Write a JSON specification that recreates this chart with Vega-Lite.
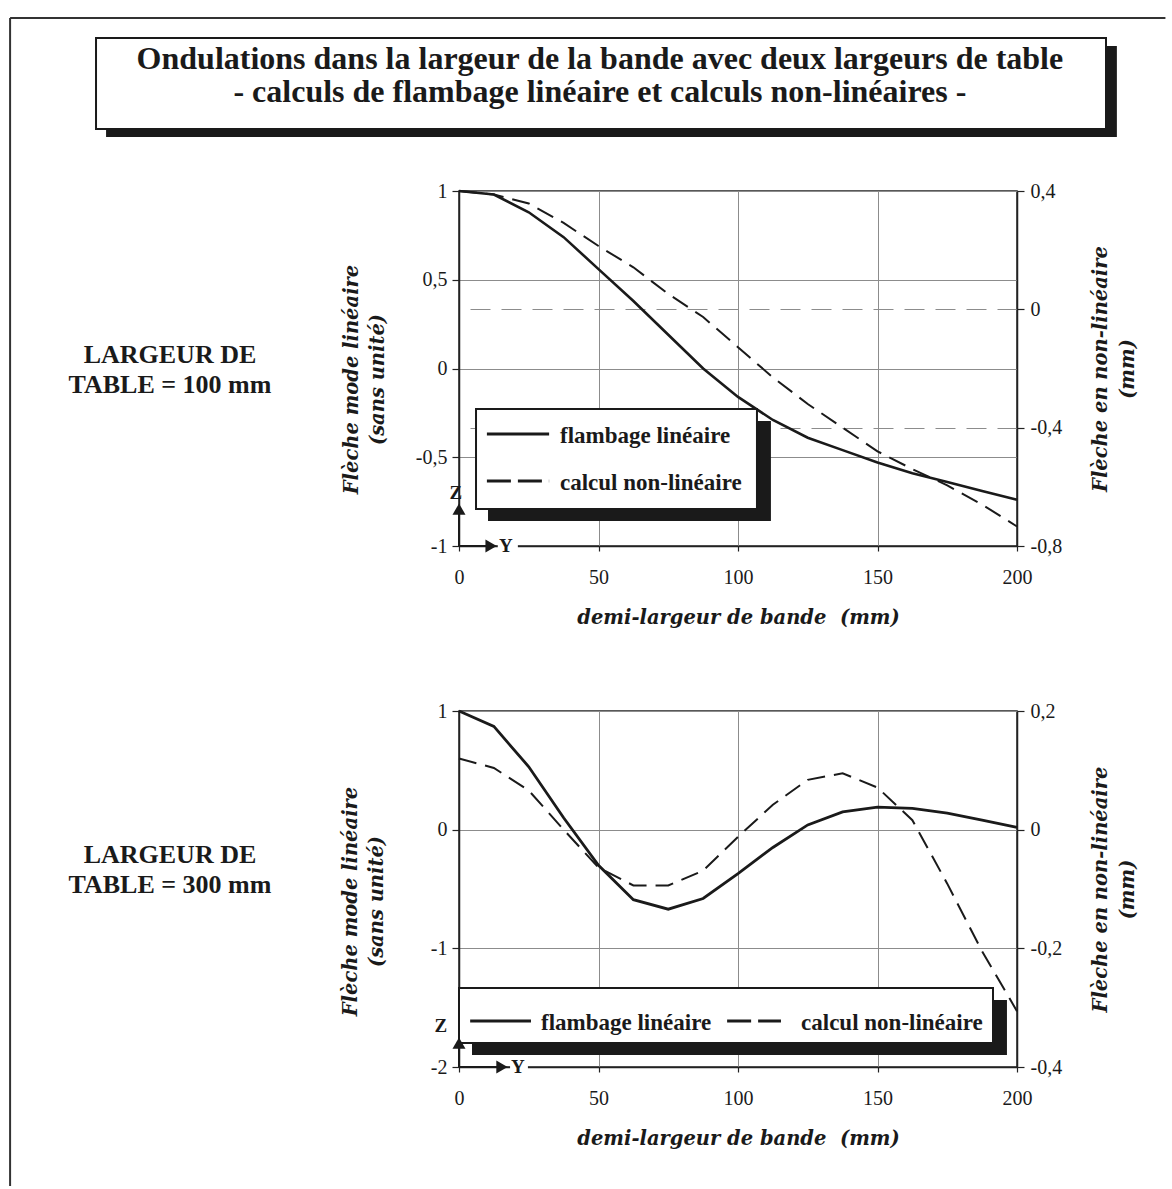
{
  "$schema": "https://vega.github.io/schema/vega-lite/v6.json",
  "background": "white",
  "padding": {"left": 8, "top": 16, "right": 0, "bottom": 0},
  "bounds": "flush",
  "spacing": 165,
  "config": {
    "view": {"stroke": "#222222", "strokeWidth": 1.5},
    "axis": {
      "labelFlush": false, "labelOverlap": false, "labelBound": false,
      "labelFont": "Liberation Serif", "labelFontSize": 20, "labelColor": "#1a1a1a",
      "titleFont": "DejaVu Serif", "titleFontStyle": "italic", "titleFontWeight": "bold",
      "titleFontSize": 19.5, "titleColor": "#1a1a1a",
      "domainColor": "#222222", "domainWidth": 1.5,
      "tickColor": "#222222", "tickWidth": 1.2,
      "gridColor": "#8c8c8c", "gridWidth": 1
    }
  },
  "datasets": {
    "p1": [
      {"demi_largeur": 0, "fleche": 1.0, "serie": "flambage linéaire"},
      {"demi_largeur": 12.5, "fleche": 0.98, "serie": "flambage linéaire"},
      {"demi_largeur": 25, "fleche": 0.88, "serie": "flambage linéaire"},
      {"demi_largeur": 37.5, "fleche": 0.74, "serie": "flambage linéaire"},
      {"demi_largeur": 50, "fleche": 0.56, "serie": "flambage linéaire"},
      {"demi_largeur": 62.5, "fleche": 0.38, "serie": "flambage linéaire"},
      {"demi_largeur": 75, "fleche": 0.19, "serie": "flambage linéaire"},
      {"demi_largeur": 87.5, "fleche": 0.0, "serie": "flambage linéaire"},
      {"demi_largeur": 100, "fleche": -0.16, "serie": "flambage linéaire"},
      {"demi_largeur": 112.5, "fleche": -0.29, "serie": "flambage linéaire"},
      {"demi_largeur": 125, "fleche": -0.39, "serie": "flambage linéaire"},
      {"demi_largeur": 137.5, "fleche": -0.46, "serie": "flambage linéaire"},
      {"demi_largeur": 150, "fleche": -0.53, "serie": "flambage linéaire"},
      {"demi_largeur": 162.5, "fleche": -0.59, "serie": "flambage linéaire"},
      {"demi_largeur": 175, "fleche": -0.64, "serie": "flambage linéaire"},
      {"demi_largeur": 187.5, "fleche": -0.69, "serie": "flambage linéaire"},
      {"demi_largeur": 200, "fleche": -0.74, "serie": "flambage linéaire"},
      {"demi_largeur": 0, "fleche": 0.4, "serie": "calcul non-linéaire"},
      {"demi_largeur": 12.5, "fleche": 0.388, "serie": "calcul non-linéaire"},
      {"demi_largeur": 25, "fleche": 0.358, "serie": "calcul non-linéaire"},
      {"demi_largeur": 37.5, "fleche": 0.292, "serie": "calcul non-linéaire"},
      {"demi_largeur": 50, "fleche": 0.214, "serie": "calcul non-linéaire"},
      {"demi_largeur": 62.5, "fleche": 0.142, "serie": "calcul non-linéaire"},
      {"demi_largeur": 75, "fleche": 0.052, "serie": "calcul non-linéaire"},
      {"demi_largeur": 87.5, "fleche": -0.026, "serie": "calcul non-linéaire"},
      {"demi_largeur": 100, "fleche": -0.128, "serie": "calcul non-linéaire"},
      {"demi_largeur": 112.5, "fleche": -0.23, "serie": "calcul non-linéaire"},
      {"demi_largeur": 125, "fleche": -0.32, "serie": "calcul non-linéaire"},
      {"demi_largeur": 137.5, "fleche": -0.4, "serie": "calcul non-linéaire"},
      {"demi_largeur": 150, "fleche": -0.48, "serie": "calcul non-linéaire"},
      {"demi_largeur": 162.5, "fleche": -0.54, "serie": "calcul non-linéaire"},
      {"demi_largeur": 175, "fleche": -0.595, "serie": "calcul non-linéaire"},
      {"demi_largeur": 187.5, "fleche": -0.66, "serie": "calcul non-linéaire"},
      {"demi_largeur": 200, "fleche": -0.734, "serie": "calcul non-linéaire"}
    ],
    "p2": [
      {"demi_largeur": 0, "fleche": 1.0, "serie": "flambage linéaire"},
      {"demi_largeur": 12.5, "fleche": 0.87, "serie": "flambage linéaire"},
      {"demi_largeur": 25, "fleche": 0.53, "serie": "flambage linéaire"},
      {"demi_largeur": 37.5, "fleche": 0.1, "serie": "flambage linéaire"},
      {"demi_largeur": 50, "fleche": -0.3, "serie": "flambage linéaire"},
      {"demi_largeur": 62.5, "fleche": -0.59, "serie": "flambage linéaire"},
      {"demi_largeur": 75, "fleche": -0.67, "serie": "flambage linéaire"},
      {"demi_largeur": 87.5, "fleche": -0.58, "serie": "flambage linéaire"},
      {"demi_largeur": 100, "fleche": -0.37, "serie": "flambage linéaire"},
      {"demi_largeur": 112.5, "fleche": -0.15, "serie": "flambage linéaire"},
      {"demi_largeur": 125, "fleche": 0.04, "serie": "flambage linéaire"},
      {"demi_largeur": 137.5, "fleche": 0.15, "serie": "flambage linéaire"},
      {"demi_largeur": 150, "fleche": 0.19, "serie": "flambage linéaire"},
      {"demi_largeur": 162.5, "fleche": 0.18, "serie": "flambage linéaire"},
      {"demi_largeur": 175, "fleche": 0.14, "serie": "flambage linéaire"},
      {"demi_largeur": 187.5, "fleche": 0.08, "serie": "flambage linéaire"},
      {"demi_largeur": 200, "fleche": 0.02, "serie": "flambage linéaire"},
      {"demi_largeur": 0, "fleche": 0.12, "serie": "calcul non-linéaire"},
      {"demi_largeur": 12.5, "fleche": 0.104, "serie": "calcul non-linéaire"},
      {"demi_largeur": 25, "fleche": 0.066, "serie": "calcul non-linéaire"},
      {"demi_largeur": 37.5, "fleche": 0.0, "serie": "calcul non-linéaire"},
      {"demi_largeur": 50, "fleche": -0.064, "serie": "calcul non-linéaire"},
      {"demi_largeur": 62.5, "fleche": -0.094, "serie": "calcul non-linéaire"},
      {"demi_largeur": 75, "fleche": -0.094, "serie": "calcul non-linéaire"},
      {"demi_largeur": 87.5, "fleche": -0.069, "serie": "calcul non-linéaire"},
      {"demi_largeur": 100, "fleche": -0.012, "serie": "calcul non-linéaire"},
      {"demi_largeur": 112.5, "fleche": 0.042, "serie": "calcul non-linéaire"},
      {"demi_largeur": 125, "fleche": 0.084, "serie": "calcul non-linéaire"},
      {"demi_largeur": 137.5, "fleche": 0.095, "serie": "calcul non-linéaire"},
      {"demi_largeur": 150, "fleche": 0.071, "serie": "calcul non-linéaire"},
      {"demi_largeur": 162.5, "fleche": 0.016, "serie": "calcul non-linéaire"},
      {"demi_largeur": 175, "fleche": -0.091, "serie": "calcul non-linéaire"},
      {"demi_largeur": 187.5, "fleche": -0.205, "serie": "calcul non-linéaire"},
      {"demi_largeur": 200, "fleche": -0.306, "serie": "calcul non-linéaire"}
    ]
  },
  "vconcat": [
    {
      "width": 558,
      "height": 355,
      "resolve": {"scale": {"y": "independent"}},
      "layer": [
        {
          "data": {"name": "p1"},
          "transform": [{"filter": "datum.serie === 'flambage linéaire'"}],
          "mark": {"type": "line", "color": "#1a1a1a", "strokeWidth": 2.6},
          "encoding": {
            "x": {"field": "demi_largeur", "type": "quantitative",
              "scale": {"domain": [0, 200], "nice": false, "zero": false},
              "axis": {"values": [0, 50, 100, 150, 200], "grid": true, "tickSize": 5, "labelPadding": 16, "format": "d",
                "title": "demi-largeur de bande \u00a0(mm)", "titlePadding": 21}},
            "y": {"field": "fleche", "type": "quantitative",
              "scale": {"domain": [-1, 1], "nice": false, "zero": false},
              "axis": {"orient": "left", "values": [-1, -0.5, 0, 0.5, 1], "grid": true, "tickSize": 7, "labelPadding": 5,
                "labelExpr": "replace(replace(format(datum.value, '~g'), '.', ','), '\u2212', '-')",
                "title": ["Flèche mode linéaire", "(sans unité)"], "titlePadding": 28, "titleLineHeight": 26, "titleY": 188}}
          }
        },
        {
          "data": {"name": "p1"},
          "transform": [{"filter": "datum.serie === 'calcul non-linéaire'"}],
          "mark": {"type": "line", "color": "#1a1a1a", "strokeWidth": 2, "strokeDash": [18, 9]},
          "encoding": {
            "x": {"field": "demi_largeur", "type": "quantitative",
              "scale": {"domain": [0, 200], "nice": false, "zero": false}},
            "y": {"field": "fleche", "type": "quantitative",
              "scale": {"domain": [-0.8, 0.4], "nice": false, "zero": false},
              "axis": {"orient": "right", "values": [-0.8, -0.4, 0, 0.4], "grid": true, "gridDash": [20, 11],
                "gridOpacity": {"condition": {"test": "datum.value === 0 || datum.value === -0.4", "value": 1}, "value": 0},
                "tickSize": 7, "labelPadding": 6,
                "labelExpr": "replace(replace(format(datum.value, '~g'), '.', ','), '\u2212', '-')",
                "title": ["Flèche en non-linéaire", "(mm)"], "titleAngle": 270, "titleBaseline": "top",
                "titlePadding": 3, "titleLineHeight": 27}}
          }
        },
        {
          "data": {"values": [{}]},
          "layer": [
            {"mark": {"type": "rule", "color": "#333333", "strokeWidth": 2},
             "encoding": {
               "x": {"datum": -160.9, "type": "quantitative", "scale": {"domain": [0, 200], "nice": false, "zero": false}},
               "y": {"datum": 1.975, "type": "quantitative", "scale": {"domain": [-1, 1], "nice": false, "zero": false}, "axis": null},
               "y2": {"datum": -4.606}}},
            {"mark": {"type": "rule", "color": "#333333", "strokeWidth": 2},
             "encoding": {
               "x": {"datum": -160.9, "type": "quantitative", "scale": {"domain": [0, 200], "nice": false, "zero": false}},
               "x2": {"datum": 253.2},
               "y": {"datum": 1.975, "type": "quantitative", "scale": {"domain": [-1, 1], "nice": false, "zero": false}, "axis": null}}},
            {"mark": {"type": "rect", "fill": "#1a1a1a"},
             "encoding": {
               "x": {"datum": -126.5, "type": "quantitative", "scale": {"domain": [0, 200], "nice": false, "zero": false}},
               "x2": {"datum": 235.8},
               "y": {"datum": 1.817, "type": "quantitative", "scale": {"domain": [-1, 1], "nice": false, "zero": false}, "axis": null},
               "y2": {"datum": 1.304}}},
            {"mark": {"type": "rect", "fill": "white", "stroke": "#1a1a1a", "strokeWidth": 2},
             "encoding": {
               "x": {"datum": -130.1, "type": "quantitative", "scale": {"domain": [0, 200], "nice": false, "zero": false}},
               "x2": {"datum": 231.9},
               "y": {"datum": 1.862, "type": "quantitative", "scale": {"domain": [-1, 1], "nice": false, "zero": false}, "axis": null},
               "y2": {"datum": 1.349}}},
            {"mark": {"type": "text", "text": ["Ondulations dans la largeur de la bande avec deux largeurs de table", "- calculs de flambage linéaire et calculs non-linéaires -"], "lineHeight": 33, "font": "Liberation Serif", "fontWeight": "bold", "fontSize": 32, "align": "center", "baseline": "alphabetic", "color": "#1a1a1a"},
             "encoding": {
               "x": {"datum": 50.5, "type": "quantitative", "scale": {"domain": [0, 200], "nice": false, "zero": false}},
               "y": {"datum": 1.687, "type": "quantitative", "scale": {"domain": [-1, 1], "nice": false, "zero": false}, "axis": null}}},
            {"mark": {"type": "text", "text": "LARGEUR DE", "font": "Liberation Serif", "fontWeight": "bold", "fontSize": 26, "align": "center", "baseline": "alphabetic", "color": "#1a1a1a"},
             "encoding": {
               "x": {"datum": -103.6, "type": "quantitative", "scale": {"domain": [0, 200], "nice": false, "zero": false}},
               "y": {"datum": 0.031, "type": "quantitative", "scale": {"domain": [-1, 1], "nice": false, "zero": false}, "axis": null}}},
            {"mark": {"type": "text", "text": "TABLE = 100 mm", "font": "Liberation Serif", "fontWeight": "bold", "fontSize": 26, "align": "center", "baseline": "alphabetic", "color": "#1a1a1a"},
             "encoding": {
               "x": {"datum": -103.6, "type": "quantitative", "scale": {"domain": [0, 200], "nice": false, "zero": false}},
               "y": {"datum": -0.138, "type": "quantitative", "scale": {"domain": [-1, 1], "nice": false, "zero": false}, "axis": null}}},
            {"mark": {"type": "rect", "fill": "#1a1a1a"},
             "encoding": {
               "x": {"datum": 10.4, "type": "quantitative", "scale": {"domain": [0, 200], "nice": false, "zero": false}},
               "x2": {"datum": 111.8},
               "y": {"datum": -0.296, "type": "quantitative", "scale": {"domain": [-1, 1], "nice": false, "zero": false}, "axis": null},
               "y2": {"datum": -0.859}}},
            {"mark": {"type": "rect", "fill": "white", "stroke": "#1a1a1a", "strokeWidth": 2},
             "encoding": {
               "x": {"datum": 6.1, "type": "quantitative", "scale": {"domain": [0, 200], "nice": false, "zero": false}},
               "x2": {"datum": 106.8},
               "y": {"datum": -0.228, "type": "quantitative", "scale": {"domain": [-1, 1], "nice": false, "zero": false}, "axis": null},
               "y2": {"datum": -0.792}}},
            {"mark": {"type": "rule", "color": "#1a1a1a", "strokeWidth": 3},
             "encoding": {
               "x": {"datum": 10.0, "type": "quantitative", "scale": {"domain": [0, 200], "nice": false, "zero": false}},
               "x2": {"datum": 32.3},
               "y": {"datum": -0.369, "type": "quantitative", "scale": {"domain": [-1, 1], "nice": false, "zero": false}, "axis": null}}},
            {"mark": {"type": "text", "text": "flambage linéaire", "font": "Liberation Serif", "fontWeight": "bold", "fontSize": 23, "align": "left", "baseline": "alphabetic", "color": "#1a1a1a"},
             "encoding": {
               "x": {"datum": 36.2, "type": "quantitative", "scale": {"domain": [0, 200], "nice": false, "zero": false}},
               "y": {"datum": -0.42, "type": "quantitative", "scale": {"domain": [-1, 1], "nice": false, "zero": false}, "axis": null}}},
            {"mark": {"type": "rule", "color": "#1a1a1a", "strokeWidth": 3, "strokeDash": [24, 7]},
             "encoding": {
               "x": {"datum": 10.0, "type": "quantitative", "scale": {"domain": [0, 200], "nice": false, "zero": false}},
               "x2": {"datum": 32.3},
               "y": {"datum": -0.634, "type": "quantitative", "scale": {"domain": [-1, 1], "nice": false, "zero": false}, "axis": null}}},
            {"mark": {"type": "text", "text": "calcul non-linéaire", "font": "Liberation Serif", "fontWeight": "bold", "fontSize": 23, "align": "left", "baseline": "alphabetic", "color": "#1a1a1a"},
             "encoding": {
               "x": {"datum": 36.2, "type": "quantitative", "scale": {"domain": [0, 200], "nice": false, "zero": false}},
               "y": {"datum": -0.685, "type": "quantitative", "scale": {"domain": [-1, 1], "nice": false, "zero": false}, "axis": null}}},
            {"mark": {"type": "rect", "fill": "white"},
             "encoding": {
               "x": {"datum": 13.9, "type": "quantitative", "scale": {"domain": [0, 200], "nice": false, "zero": false}},
               "x2": {"datum": 21.1},
               "y": {"datum": -0.977, "type": "quantitative", "scale": {"domain": [-1, 1], "nice": false, "zero": false}, "axis": null},
               "y2": {"datum": -1.023}}},
            {"mark": {"type": "rule", "color": "#1a1a1a", "strokeWidth": 2},
             "encoding": {
               "x": {"datum": 0, "type": "quantitative", "scale": {"domain": [0, 200], "nice": false, "zero": false}},
               "y": {"datum": -1, "type": "quantitative", "scale": {"domain": [-1, 1], "nice": false, "zero": false}, "axis": null},
               "y2": {"datum": -0.8}}},
            {"mark": {"type": "rule", "color": "#1a1a1a", "strokeWidth": 2},
             "encoding": {
               "x": {"datum": 0, "type": "quantitative", "scale": {"domain": [0, 200], "nice": false, "zero": false}},
               "x2": {"datum": 11.0},
               "y": {"datum": -1, "type": "quantitative", "scale": {"domain": [-1, 1], "nice": false, "zero": false}, "axis": null}}},
            {"mark": {"type": "point", "shape": "triangle-up", "filled": true, "size": 170, "color": "#1a1a1a", "opacity": 1},
             "encoding": {
               "x": {"datum": 0, "type": "quantitative", "scale": {"domain": [0, 200], "nice": false, "zero": false}},
               "y": {"datum": -0.792, "type": "quantitative", "scale": {"domain": [-1, 1], "nice": false, "zero": false}, "axis": null}}},
            {"mark": {"type": "point", "shape": "triangle-right", "filled": true, "size": 170, "color": "#1a1a1a", "opacity": 1},
             "encoding": {
               "x": {"datum": 11.5, "type": "quantitative", "scale": {"domain": [0, 200], "nice": false, "zero": false}},
               "y": {"datum": -1, "type": "quantitative", "scale": {"domain": [-1, 1], "nice": false, "zero": false}, "axis": null}}},
            {"mark": {"type": "text", "text": "Z", "font": "Liberation Serif", "fontWeight": "bold", "fontSize": 19, "align": "center", "baseline": "alphabetic", "color": "#1a1a1a"},
             "encoding": {
               "x": {"datum": -1.1, "type": "quantitative", "scale": {"domain": [0, 200], "nice": false, "zero": false}},
               "y": {"datum": -0.735, "type": "quantitative", "scale": {"domain": [-1, 1], "nice": false, "zero": false}, "axis": null}}},
            {"mark": {"type": "text", "text": "Y", "font": "Liberation Serif", "fontWeight": "bold", "fontSize": 19, "align": "left", "baseline": "middle", "color": "#1a1a1a"},
             "encoding": {
               "x": {"datum": 14.3, "type": "quantitative", "scale": {"domain": [0, 200], "nice": false, "zero": false}},
               "y": {"datum": -1, "type": "quantitative", "scale": {"domain": [-1, 1], "nice": false, "zero": false}, "axis": null}}}
          ]
        }
      ]
    },
    {
      "width": 558,
      "height": 356,
      "resolve": {"scale": {"y": "independent"}},
      "layer": [
        {
          "data": {"name": "p2"},
          "transform": [{"filter": "datum.serie === 'flambage linéaire'"}],
          "mark": {"type": "line", "color": "#1a1a1a", "strokeWidth": 2.8},
          "encoding": {
            "x": {"field": "demi_largeur", "type": "quantitative",
              "scale": {"domain": [0, 200], "nice": false, "zero": false},
              "axis": {"values": [0, 50, 100, 150, 200], "grid": true, "tickSize": 5, "labelPadding": 16, "format": "d",
                "title": "demi-largeur de bande \u00a0(mm)", "titlePadding": 21}},
            "y": {"field": "fleche", "type": "quantitative",
              "scale": {"domain": [-2, 1], "nice": false, "zero": false},
              "axis": {"orient": "left", "values": [-2, -1, 0, 1], "grid": true, "tickSize": 7, "labelPadding": 5,
                "labelExpr": "replace(replace(format(datum.value, '~g'), '.', ','), '\u2212', '-')",
                "title": ["Flèche mode linéaire", "(sans unité)"], "titlePadding": 44, "titleLineHeight": 26, "titleY": 190}}
          }
        },
        {
          "data": {"name": "p2"},
          "transform": [{"filter": "datum.serie === 'calcul non-linéaire'"}],
          "mark": {"type": "line", "color": "#1a1a1a", "strokeWidth": 2, "strokeDash": [18, 9]},
          "encoding": {
            "x": {"field": "demi_largeur", "type": "quantitative",
              "scale": {"domain": [0, 200], "nice": false, "zero": false}},
            "y": {"field": "fleche", "type": "quantitative",
              "scale": {"domain": [-0.4, 0.2], "nice": false, "zero": false},
              "axis": {"orient": "right", "values": [-0.4, -0.2, 0, 0.2], "grid": false,
                "tickSize": 7, "labelPadding": 6,
                "labelExpr": "replace(replace(format(datum.value, '~g'), '.', ','), '\u2212', '-')",
                "title": ["Flèche en non-linéaire", "(mm)"], "titleAngle": 270, "titleBaseline": "top",
                "titlePadding": 3, "titleLineHeight": 27}}
          }
        },
        {
          "data": {"values": [{}]},
          "layer": [
            {"mark": {"type": "text", "text": "LARGEUR DE", "font": "Liberation Serif", "fontWeight": "bold", "fontSize": 26, "align": "center", "baseline": "alphabetic", "color": "#1a1a1a"},
             "encoding": {
               "x": {"datum": -103.6, "type": "quantitative", "scale": {"domain": [0, 200], "nice": false, "zero": false}},
               "y": {"datum": -0.281, "type": "quantitative", "scale": {"domain": [-2, 1], "nice": false, "zero": false}, "axis": null}}},
            {"mark": {"type": "text", "text": "TABLE = 300 mm", "font": "Liberation Serif", "fontWeight": "bold", "fontSize": 26, "align": "center", "baseline": "alphabetic", "color": "#1a1a1a"},
             "encoding": {
               "x": {"datum": -103.6, "type": "quantitative", "scale": {"domain": [0, 200], "nice": false, "zero": false}},
               "y": {"datum": -0.534, "type": "quantitative", "scale": {"domain": [-2, 1], "nice": false, "zero": false}, "axis": null}}},
            {"mark": {"type": "rect", "fill": "#1a1a1a"},
             "encoding": {
               "x": {"datum": 4.66, "type": "quantitative", "scale": {"domain": [0, 200], "nice": false, "zero": false}},
               "x2": {"datum": 196.4},
               "y": {"datum": -1.435, "type": "quantitative", "scale": {"domain": [-2, 1], "nice": false, "zero": false}, "axis": null},
               "y2": {"datum": -1.899}}},
            {"mark": {"type": "rect", "fill": "white", "stroke": "#1a1a1a", "strokeWidth": 2},
             "encoding": {
               "x": {"datum": 0, "type": "quantitative", "scale": {"domain": [0, 200], "nice": false, "zero": false}},
               "x2": {"datum": 191.4},
               "y": {"datum": -1.334, "type": "quantitative", "scale": {"domain": [-2, 1], "nice": false, "zero": false}, "axis": null},
               "y2": {"datum": -1.798}}},
            {"mark": {"type": "rule", "color": "#1a1a1a", "strokeWidth": 3},
             "encoding": {
               "x": {"datum": 4.0, "type": "quantitative", "scale": {"domain": [0, 200], "nice": false, "zero": false}},
               "x2": {"datum": 25.8},
               "y": {"datum": -1.612, "type": "quantitative", "scale": {"domain": [-2, 1], "nice": false, "zero": false}, "axis": null}}},
            {"mark": {"type": "text", "text": "flambage linéaire", "font": "Liberation Serif", "fontWeight": "bold", "fontSize": 23, "align": "left", "baseline": "alphabetic", "color": "#1a1a1a"},
             "encoding": {
               "x": {"datum": 29.4, "type": "quantitative", "scale": {"domain": [0, 200], "nice": false, "zero": false}},
               "y": {"datum": -1.688, "type": "quantitative", "scale": {"domain": [-2, 1], "nice": false, "zero": false}, "axis": null}}},
            {"mark": {"type": "rule", "color": "#1a1a1a", "strokeWidth": 3, "strokeDash": [24, 7]},
             "encoding": {
               "x": {"datum": 96.1, "type": "quantitative", "scale": {"domain": [0, 200], "nice": false, "zero": false}},
               "x2": {"datum": 115.4},
               "y": {"datum": -1.612, "type": "quantitative", "scale": {"domain": [-2, 1], "nice": false, "zero": false}, "axis": null}}},
            {"mark": {"type": "text", "text": "calcul non-linéaire", "font": "Liberation Serif", "fontWeight": "bold", "fontSize": 23, "align": "left", "baseline": "alphabetic", "color": "#1a1a1a"},
             "encoding": {
               "x": {"datum": 122.6, "type": "quantitative", "scale": {"domain": [0, 200], "nice": false, "zero": false}},
               "y": {"datum": -1.688, "type": "quantitative", "scale": {"domain": [-2, 1], "nice": false, "zero": false}, "axis": null}}},
            {"mark": {"type": "rect", "fill": "white"},
             "encoding": {
               "x": {"datum": 18.3, "type": "quantitative", "scale": {"domain": [0, 200], "nice": false, "zero": false}},
               "x2": {"datum": 24.7},
               "y": {"datum": -1.966, "type": "quantitative", "scale": {"domain": [-2, 1], "nice": false, "zero": false}, "axis": null},
               "y2": {"datum": -2.034}}},
            {"mark": {"type": "rule", "color": "#1a1a1a", "strokeWidth": 2},
             "encoding": {
               "x": {"datum": 0, "type": "quantitative", "scale": {"domain": [0, 200], "nice": false, "zero": false}},
               "y": {"datum": -2, "type": "quantitative", "scale": {"domain": [-2, 1], "nice": false, "zero": false}, "axis": null},
               "y2": {"datum": -1.8}}},
            {"mark": {"type": "rule", "color": "#1a1a1a", "strokeWidth": 2},
             "encoding": {
               "x": {"datum": 0, "type": "quantitative", "scale": {"domain": [0, 200], "nice": false, "zero": false}},
               "x2": {"datum": 15.0},
               "y": {"datum": -2, "type": "quantitative", "scale": {"domain": [-2, 1], "nice": false, "zero": false}, "axis": null}}},
            {"mark": {"type": "point", "shape": "triangle-up", "filled": true, "size": 170, "color": "#1a1a1a", "opacity": 1},
             "encoding": {
               "x": {"datum": 0, "type": "quantitative", "scale": {"domain": [0, 200], "nice": false, "zero": false}},
               "y": {"datum": -1.798, "type": "quantitative", "scale": {"domain": [-2, 1], "nice": false, "zero": false}, "axis": null}}},
            {"mark": {"type": "point", "shape": "triangle-right", "filled": true, "size": 170, "color": "#1a1a1a", "opacity": 1},
             "encoding": {
               "x": {"datum": 15.4, "type": "quantitative", "scale": {"domain": [0, 200], "nice": false, "zero": false}},
               "y": {"datum": -2, "type": "quantitative", "scale": {"domain": [-2, 1], "nice": false, "zero": false}, "axis": null}}},
            {"mark": {"type": "text", "text": "Z", "font": "Liberation Serif", "fontWeight": "bold", "fontSize": 19, "align": "center", "baseline": "alphabetic", "color": "#1a1a1a"},
             "encoding": {
               "x": {"datum": -6.5, "type": "quantitative", "scale": {"domain": [0, 200], "nice": false, "zero": false}},
               "y": {"datum": -1.705, "type": "quantitative", "scale": {"domain": [-2, 1], "nice": false, "zero": false}, "axis": null}}},
            {"mark": {"type": "text", "text": "Y", "font": "Liberation Serif", "fontWeight": "bold", "fontSize": 19, "align": "left", "baseline": "middle", "color": "#1a1a1a"},
             "encoding": {
               "x": {"datum": 18.6, "type": "quantitative", "scale": {"domain": [0, 200], "nice": false, "zero": false}},
               "y": {"datum": -2, "type": "quantitative", "scale": {"domain": [-2, 1], "nice": false, "zero": false}, "axis": null}}}
          ]
        }
      ]
    }
  ]
}
